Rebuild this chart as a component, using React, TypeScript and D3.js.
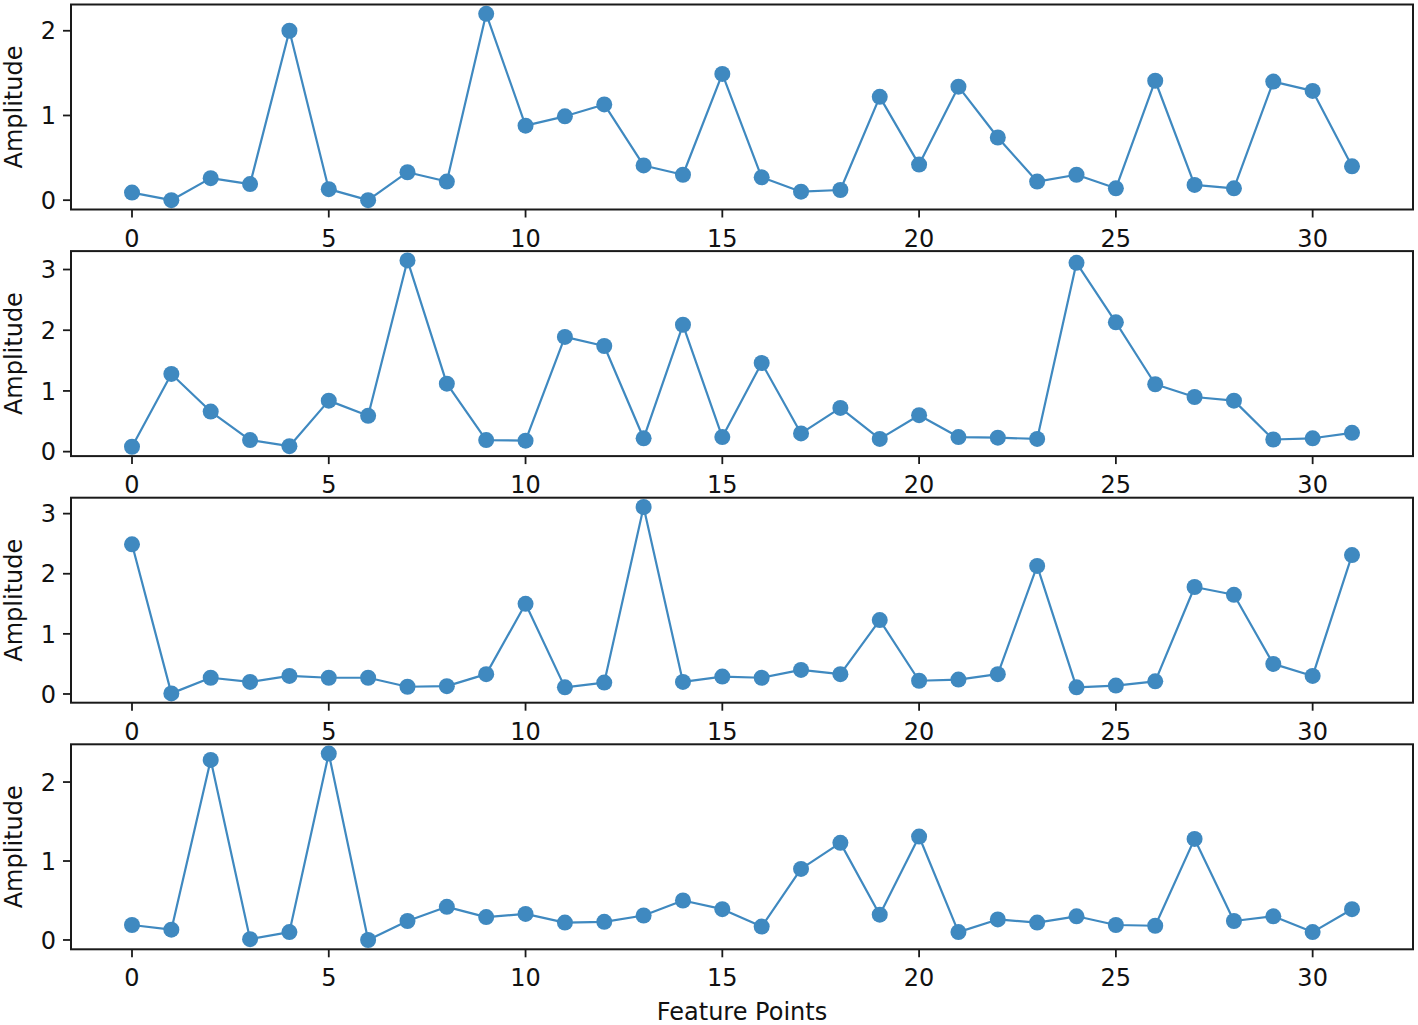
import React from "react";
import * as d3 from "d3";

const featureIdx = d3.range(32);

const series1 = [0.09, 0.0, 0.26, 0.19, 2.0, 0.13, 0.0, 0.33, 0.22, 2.2, 0.88, 0.99, 1.13, 0.41, 0.30, 1.49, 0.27, 0.10, 0.12, 1.22, 0.42, 1.34, 0.74, 0.22, 0.30, 0.14, 1.41, 0.18, 0.14, 1.40, 1.29, 0.40];
const series2 = [0.08, 1.28, 0.66, 0.19, 0.09, 0.84, 0.59, 3.15, 1.12, 0.19, 0.18, 1.89, 1.74, 0.22, 2.09, 0.24, 1.46, 0.30, 0.72, 0.21, 0.60, 0.24, 0.23, 0.21, 3.11, 2.13, 1.11, 0.90, 0.84, 0.20, 0.22, 0.31];
const series3 = [2.49, 0.01, 0.27, 0.20, 0.30, 0.27, 0.27, 0.12, 0.13, 0.33, 1.50, 0.11, 0.19, 3.11, 0.20, 0.29, 0.27, 0.40, 0.33, 1.23, 0.22, 0.24, 0.33, 2.13, 0.11, 0.14, 0.21, 1.78, 1.65, 0.50, 0.30, 2.31];
const series4 = [0.19, 0.13, 2.28, 0.01, 0.10, 2.36, 0.00, 0.24, 0.42, 0.29, 0.33, 0.22, 0.23, 0.31, 0.50, 0.39, 0.17, 0.90, 1.23, 0.32, 1.31, 0.10, 0.26, 0.22, 0.30, 0.19, 0.18, 1.28, 0.24, 0.30, 0.10, 0.39];

const allSeries = [series1, series2, series3, series4];
const yTickSets = [[0, 1, 2], [0, 1, 2, 3], [0, 1, 2, 3], [0, 1, 2]];
const xTicks = [0, 5, 10, 15, 20, 25, 30];
const yLabel = "Amplitude";
const xLabel = "Feature Points";

const W = 1418;
const H = 1025;
const left = 71;
const right = 1413;
const top0 = 4.5;
const panelH = 205;
const panelStep = 246.6;
const color = "#3f89c0";
const font = "DejaVu Sans, sans-serif";
const fs = 24;

function Panel({ data, yTicks, idx }: { data: number[]; yTicks: number[]; idx: number }) {
  const top = top0 + idx * panelStep;
  const bottom = top + panelH;
  const n = data.length;
  const xm = (n - 1) * 0.05;
  const x = d3.scaleLinear().domain([-xm, n - 1 + xm]).range([left, right]);
  const [mn, mx] = d3.extent(data) as [number, number];
  const ym = (mx - mn) * 0.05;
  const y = d3.scaleLinear().domain([mn - ym, mx + ym]).range([bottom, top]);
  const line = d3
    .line<number>()
    .x((_, i) => x(featureIdx[i]))
    .y((d) => y(d));
  return (
    <g>
      <path d={line(data) || ""} fill="none" stroke={color} strokeWidth={2.2} strokeLinejoin="round" />
      {data.map((d, i) => (
        <circle key={i} cx={x(featureIdx[i])} cy={y(d)} r={8} fill={color} />
      ))}
      <rect x={left} y={top} width={right - left} height={panelH} fill="none" stroke="#1a1a1a" strokeWidth={2} />
      {xTicks.map((t) => (
        <g key={"x" + t}>
          <line x1={x(t)} x2={x(t)} y1={bottom} y2={bottom + 8} stroke="#1a1a1a" strokeWidth={1.8} />
          <text x={x(t)} y={bottom + 37} textAnchor="middle" fontFamily={font} fontSize={fs} fill="#111">
            {t}
          </text>
        </g>
      ))}
      {yTicks.map((t) => (
        <g key={"y" + t}>
          <line x1={left - 8} x2={left} y1={y(t)} y2={y(t)} stroke="#1a1a1a" strokeWidth={1.8} />
          <text x={left - 15} y={y(t)} dy="0.36em" textAnchor="end" fontFamily={font} fontSize={fs} fill="#111">
            {t}
          </text>
        </g>
      ))}
      <text
        transform={`translate(${22},${(top + bottom) / 2}) rotate(-90)`}
        textAnchor="middle"
        fontFamily={font}
        fontSize={fs}
        fill="#111"
      >
        {yLabel}
      </text>
    </g>
  );
}

export default function App() {
  return (
    <svg
      width={W}
      height={H}
      style={{ position: "absolute", left: 0, top: 0, background: "#fff" }}
    >
      <rect x={0} y={0} width={W} height={H} fill="#fff" />
      {allSeries.map((s, i) => (
        <Panel key={i} data={s} yTicks={yTickSets[i]} idx={i} />
      ))}
      <text x={(left + right) / 2} y={1020} textAnchor="middle" fontFamily={font} fontSize={fs} fill="#111">
        {xLabel}
      </text>
    </svg>
  );
}
